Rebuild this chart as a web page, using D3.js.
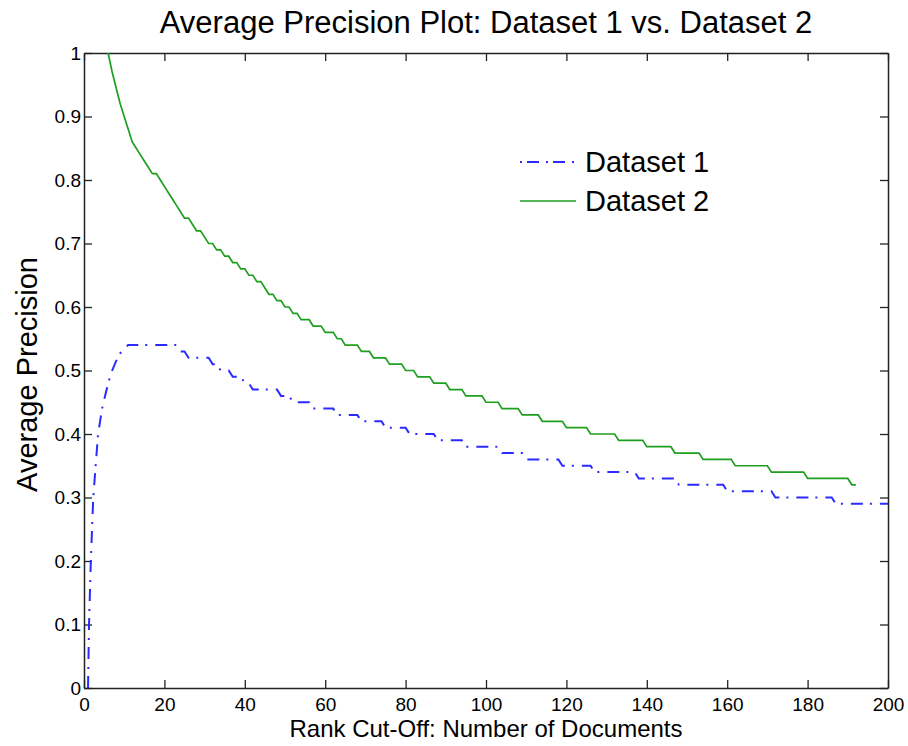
<!DOCTYPE html>
<html>
<head>
<meta charset="utf-8">
<script src="https://cdn.jsdelivr.net/npm/d3@7"></script>
<style>
  body { margin: 0; background: #fff; }
  text { font-family: "Liberation Sans", Arial, Helvetica, sans-serif; fill: #000; }
</style>
</head>
<body>
<figure id="chart" style="margin:0"></figure>
<script>
// Dataset 1: each level runs from start rank to end rank
const ds1Start = [1, 1.25, 1.7, 2.3, 3.5, 4.5, 6, 7, 8, 9, 10,
  11, 24, 26, 32, 34, 37, 40, 42, 49, 52,
  57, 63, 69, 75, 81, 88, 95, 104, 110, 119,
  127, 138, 148, 160, 172, 187]
const ds1End = [1, 1.25, 1.7, 2.3, 3.5, 4.5, 6, 7, 8, 9, 10,
  23, 25, 31, 33, 36, 39, 41, 48, 51, 56,
  62, 68, 74, 80, 87, 94, 103, 109, 118, 126,
  137, 147, 159, 171, 186, 200]
const ds1Prec = [0, 0.10, 0.20, 0.30, 0.40, 0.44, 0.48, 0.50, 0.515, 0.527, 0.535,
  0.54, 0.53, 0.52, 0.51, 0.50, 0.49, 0.48, 0.47, 0.46, 0.45,
  0.44, 0.43, 0.42, 0.41, 0.40, 0.39, 0.38, 0.37, 0.36, 0.35,
  0.34, 0.33, 0.32, 0.31, 0.30, 0.29]

// Dataset 2
const ds2Start = [6, 7, 8, 9, 10, 11, 12, 13, 14, 15,
  16, 17, 19, 20, 21, 22, 23, 24, 25, 27,
  28, 30, 31, 33, 35, 37, 39, 41, 43, 45,
  46, 48, 50, 52, 54, 57, 60, 63, 65, 69,
  72, 76, 80, 83, 87, 91, 95, 100, 104, 109,
  114, 120, 126, 133, 140, 147, 154, 162, 171, 180,
  191]
const ds2End = [6, 7, 8, 9, 10, 11, 12, 13, 14, 15,
  16, 18, 19, 20, 21, 22, 23, 24, 26, 27,
  29, 30, 32, 34, 36, 38, 40, 42, 44, 45,
  47, 49, 51, 53, 56, 59, 62, 64, 68, 71,
  75, 79, 82, 86, 90, 94, 99, 103, 108, 113,
  119, 125, 132, 139, 146, 153, 161, 170, 179, 190,
  192]
const ds2Prec = [1.00, 0.97, 0.945, 0.92, 0.90, 0.88, 0.86, 0.85, 0.84, 0.83,
  0.82, 0.81, 0.80, 0.79, 0.78, 0.77, 0.76, 0.75, 0.74, 0.73,
  0.72, 0.71, 0.70, 0.69, 0.68, 0.67, 0.66, 0.65, 0.64, 0.63,
  0.62, 0.61, 0.60, 0.59, 0.58, 0.57, 0.56, 0.55, 0.54, 0.53,
  0.52, 0.51, 0.50, 0.49, 0.48, 0.47, 0.46, 0.45, 0.44, 0.43,
  0.42, 0.41, 0.40, 0.39, 0.38, 0.37, 0.36, 0.35, 0.34, 0.33,
  0.32]

const seriesNames = ["Dataset 1", "Dataset 2"]
const xTicks = [0, 20, 40, 60, 80, 100, 120, 140, 160, 180, 200]
const yTicks = [0, 0.1, 0.2, 0.3, 0.4, 0.5, 0.6, 0.7, 0.8, 0.9, 1]

const W = 908, H = 746
const margin = { top: 53, right: 20, bottom: 58, left: 84 }
const width = W - margin.left - margin.right
const height = H - margin.top - margin.bottom

// turn level runs into line points
function toPoints(start, end, prec) {
  const pts = []
  start.forEach((s, i) => {
    pts.push([s, prec[i]])
    if (end[i] !== s) pts.push([end[i], prec[i]])
  })
  return pts
}

const svg = d3.select("#chart")
  .append("svg")
  .attr("width", W)
  .attr("height", H)

const g = svg.append("g")
  .attr("transform", `translate(${margin.left},${margin.top})`)

const x = d3.scaleLinear().domain([0, 200]).range([0, width])
const y = d3.scaleLinear().domain([0, 1]).range([height, 0])

// axes, matlab style ticks pointing in
const tickLen = 8

const xAxis = g.append("g")
  .attr("transform", `translate(0,${height})`)
  .call(d3.axisBottom(x).tickValues(xTicks).tickSizeInner(-tickLen).tickSizeOuter(0).tickPadding(10)
    .tickFormat(d3.format("d")))
xAxis.selectAll("text").style("font-size", "19px")

const yAxis = g.append("g")
  .call(d3.axisLeft(y).tickValues(yTicks).tickSizeInner(-tickLen).tickSizeOuter(0).tickPadding(3)
    .tickFormat(d => d === 0 || d === 1 ? String(d) : d3.format(".1f")(d)))
yAxis.selectAll("text").style("font-size", "19px")

g.append("g")
  .call(d3.axisTop(x).tickValues(xTicks).tickSizeInner(-tickLen).tickSizeOuter(0).tickFormat(""))

g.append("g")
  .attr("transform", `translate(${width},0)`)
  .call(d3.axisRight(y).tickValues(yTicks).tickSizeInner(-tickLen).tickSizeOuter(0).tickFormat(""))

g.selectAll(".domain").attr("stroke", "#222").attr("stroke-width", 1.5)
g.selectAll(".tick line").attr("stroke", "#222").attr("stroke-width", 1.3)

// lines
const line = d3.line()
  .x(d => x(d[0]))
  .y(d => y(d[1]))

const ds1 = toPoints(ds1Start, ds1End, ds1Prec)
const ds2 = toPoints(ds2Start, ds2End, ds2Prec)

g.append("path")
  .datum(ds2)
  .attr("fill", "none")
  .attr("stroke", "#1f9f1f")
  .attr("stroke-width", 1.7)
  .attr("d", line)

g.append("path")
  .datum(ds1)
  .attr("fill", "none")
  .attr("stroke", "#2b2bff")
  .attr("stroke-width", 2)
  .attr("stroke-dasharray", "12,7,2,8")
  .attr("d", line)

// legend
const legend = [
  { name: seriesNames[0], color: "#2b2bff", dash: "2,5,12,7", w: 2 },
  { name: seriesNames[1], color: "#1f9f1f", dash: null, w: 1.7 }
]
const lg = svg.append("g").attr("transform", "translate(520,162)")
legend.forEach((d, i) => {
  lg.append("line")
    .attr("x1", 0).attr("x2", 56)
    .attr("y1", i * 39).attr("y2", i * 39)
    .attr("stroke", d.color)
    .attr("stroke-width", d.w)
    .attr("stroke-dasharray", d.dash)
  lg.append("text")
    .attr("x", 65).attr("y", i * 39 + 10)
    .style("font-size", "29px")
    .text(d.name)
})

// titles
svg.append("text")
  .attr("x", margin.left + width / 2)
  .attr("y", 33)
  .style("text-anchor", "middle")
  .style("font-size", "31px")
  .text("Average Precision Plot: Dataset 1 vs. Dataset 2")

svg.append("text")
  .attr("x", margin.left + width / 2)
  .attr("y", 737)
  .style("text-anchor", "middle")
  .style("font-size", "24px")
  .text("Rank Cut-Off: Number of Documents")

svg.append("text")
  .attr("transform", `translate(37,${margin.top + height / 2 + 4}) rotate(-90)`)
  .style("text-anchor", "middle")
  .style("font-size", "29px")
  .text("Average Precision")
</script>
</body>
</html>
